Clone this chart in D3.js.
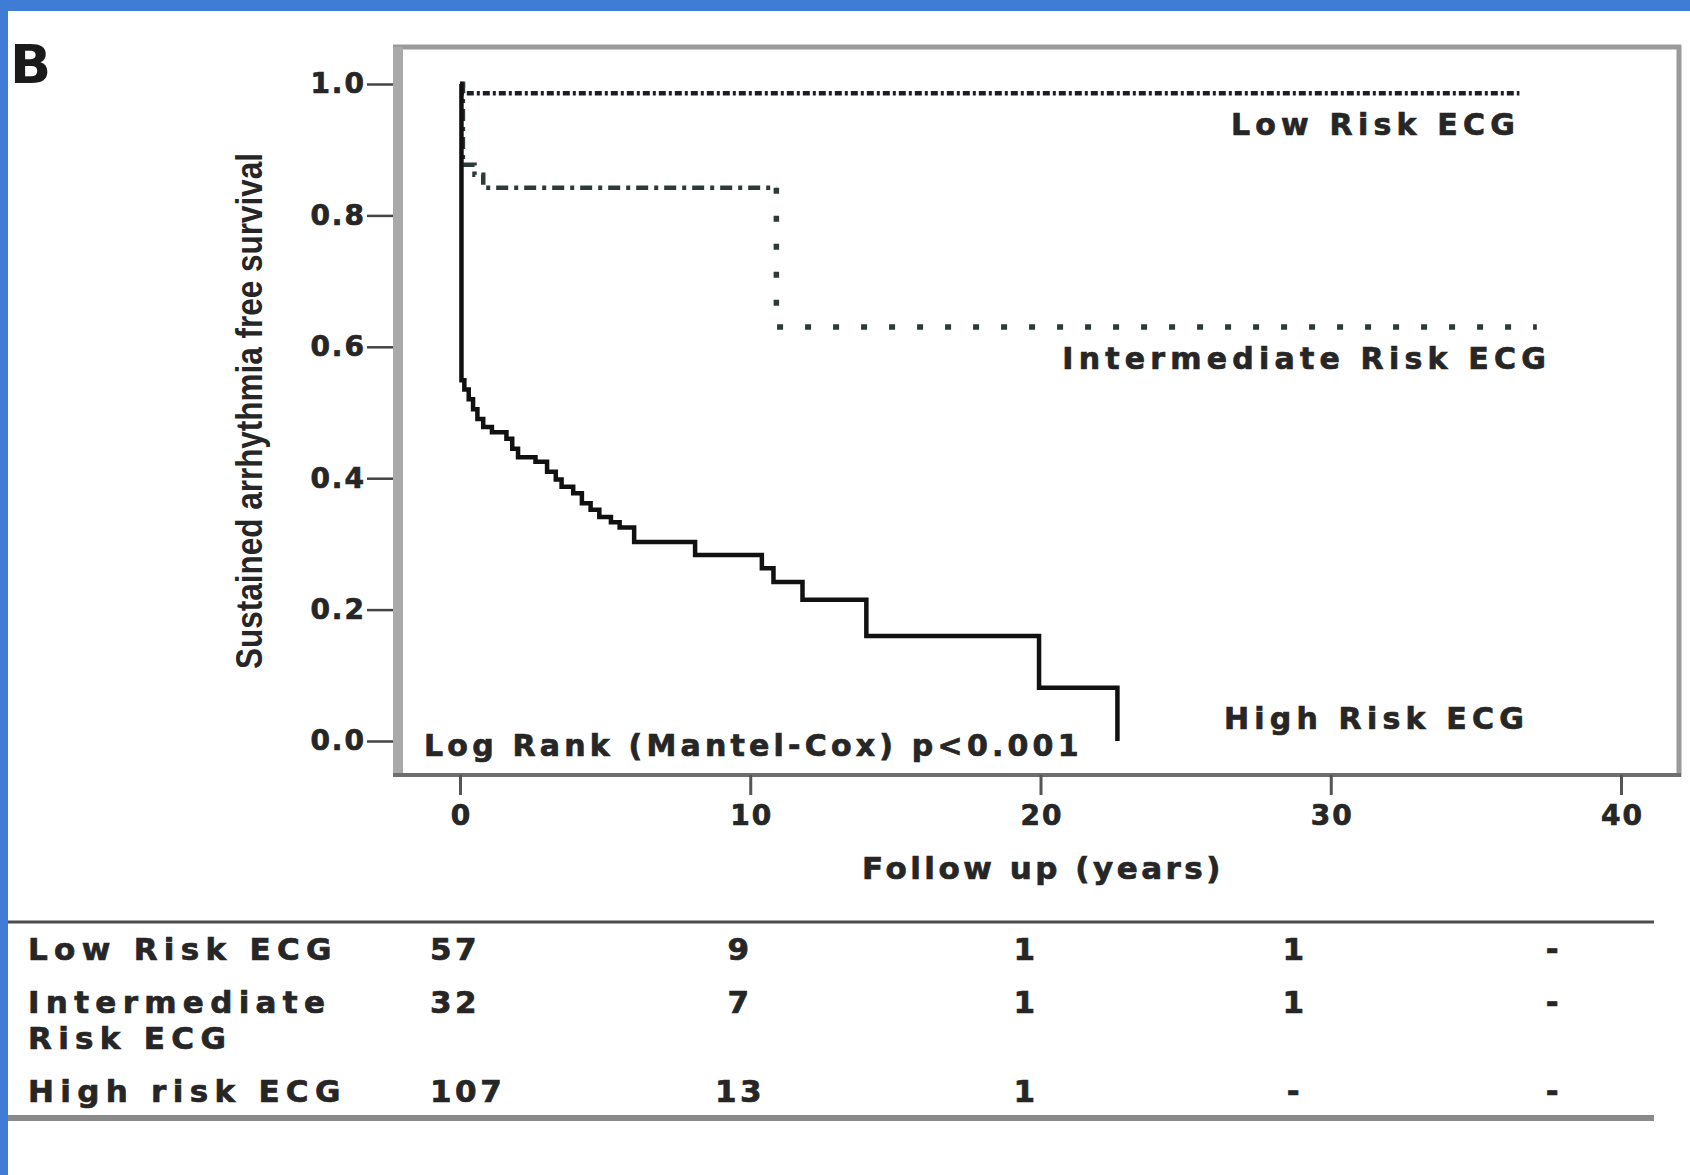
<!DOCTYPE html>
<html>
<head>
<meta charset="utf-8">
<script src="https://cdn.jsdelivr.net/npm/d3@7"></script>
<style>
  body { margin: 0; background: #fff; }
  svg { display: block; }
</style>
</head>
<body>
<div id="chart"></div>
<script>
// Kaplan-Meier data (years, survival)
const lowT = [0, 0.1, 36.5];
const lowS = [1, 0.986, 0.986];

const interT = [0, 0.1, 0.5, 0.8, 10.9, 37.1];
const interS = [1, 0.877, 0.862, 0.842, 0.63, 0.63];

const highT = [0, 0.05, 0.15, 0.3, 0.45, 0.6, 0.8, 1.1, 1.6, 1.8, 2.0, 2.6, 3.0, 3.3, 3.5, 3.9,
  4.2, 4.5, 4.8, 5.2, 5.5, 6.0, 8.1, 10.4, 10.8, 11.8, 14.0, 19.95, 22.65];
const highS = [1, 0.549, 0.535, 0.52, 0.505, 0.49, 0.478, 0.47, 0.46, 0.445, 0.432, 0.425, 0.41, 0.398, 0.387, 0.377,
  0.362, 0.352, 0.341, 0.333, 0.325, 0.303, 0.283, 0.263, 0.242, 0.215, 0.16, 0.081, 0];

const xTicks = [0, 10, 20, 30, 40];
const yTicks = [0, 0.2, 0.4, 0.6, 0.8, 1.0];

// numbers at risk table
const tableGroups = ["Low Risk ECG", "Intermediate|Risk ECG", "High risk ECG"];
const riskLow = ["57", "9", "1", "1", "-"];
const riskInter = ["32", "7", "1", "1", "-"];
const riskHigh = ["107", "13", "1", "-", "-"];

const width = 1690, height = 1175;
const font = "'DejaVu Sans', Verdana, sans-serif";
const ink = "#262626";

const svg = d3.select("#chart").append("svg")
  .attr("width", width)
  .attr("height", height);

svg.append("rect").attr("width", width).attr("height", height).attr("fill", "#fff");

// blue frame of the slide
svg.append("rect").attr("x", 0).attr("y", 0).attr("width", width).attr("height", 11).attr("fill", "#3f7cd5");
svg.append("rect").attr("x", 0).attr("y", 0).attr("width", 8).attr("height", height).attr("fill", "#3f7cd5");

// panel letter
svg.append("text")
  .attr("x", 10).attr("y", 83)
  .style("font-family", font).style("font-weight", "bold").style("font-size", "54px")
  .attr("fill", "#1a1a1a")
  .text("B");

// scales
const x = d3.scaleLinear().domain([0, 40]).range([460, 1621]);
const y = d3.scaleLinear().domain([0, 1]).range([741, 84]);

const box = { left: 398, right: 1679, top: 47, bottom: 775 };

// plot frame
svg.append("line").attr("x1", box.left - 5).attr("x2", box.right + 2).attr("y1", box.top).attr("y2", box.top)
  .attr("stroke", "#9a9a9a").attr("stroke-width", 5);
svg.append("line").attr("x1", box.right).attr("x2", box.right).attr("y1", box.top - 2).attr("y2", box.bottom + 2)
  .attr("stroke", "#9a9a9a").attr("stroke-width", 5);
svg.append("line").attr("x1", box.left).attr("x2", box.left).attr("y1", box.top).attr("y2", box.bottom)
  .attr("stroke", "#a9a9a9").attr("stroke-width", 10);
svg.append("line").attr("x1", box.left - 5).attr("x2", box.right + 2).attr("y1", box.bottom).attr("y2", box.bottom)
  .attr("stroke", "#6e6e6e").attr("stroke-width", 4);

// heavier, slightly blurred looking text
const heavy = sel => sel.attr("stroke", ink).attr("stroke-width", 0.7);

// y axis
const yAxis = svg.append("g")
  .attr("transform", `translate(${box.left - 5},0)`)
  .call(d3.axisLeft(y).tickValues(yTicks).tickFormat(d3.format(".1f")).tickSize(26).tickPadding(1));
yAxis.select(".domain").remove();
yAxis.selectAll(".tick line").attr("stroke", "#444").attr("stroke-width", 2.5);
yAxis.selectAll(".tick text")
  .style("font-family", font).style("font-weight", "bold").style("font-size", "28px")
  .style("letter-spacing", "2px").attr("fill", ink).call(heavy);

// x axis
const xAxis = svg.append("g")
  .attr("transform", `translate(0,${box.bottom})`)
  .call(d3.axisBottom(x).tickValues(xTicks).tickFormat(d3.format("d")).tickSize(20).tickPadding(10));
xAxis.select(".domain").remove();
xAxis.selectAll(".tick line").attr("stroke", "#555").attr("stroke-width", 3);
xAxis.selectAll(".tick text")
  .style("font-family", font).style("font-weight", "bold").style("font-size", "28px")
  .style("letter-spacing", "2px").attr("dx", "1px").attr("fill", ink).call(heavy);

// axis titles
svg.append("text")
  .attr("transform", "translate(262,411) rotate(-90)")
  .attr("text-anchor", "middle")
  .attr("textLength", 516).attr("lengthAdjust", "spacingAndGlyphs")
  .style("font-family", "'Liberation Sans Narrow', 'Liberation Sans', Arial, sans-serif")
  .style("font-weight", "bold").style("font-size", "37px")
  .attr("fill", ink)
  .text("Sustained arrhythmia free survival");

svg.append("text")
  .attr("x", 1043).attr("y", 879)
  .attr("text-anchor", "middle")
  .style("font-family", font).style("font-weight", "bold").style("font-size", "31px")
  .style("letter-spacing", "3.5px").attr("fill", ink).call(heavy)
  .text("Follow up (years)");

// curves
const line = d3.line().x(d => x(d.t)).y(d => y(d.s)).curve(d3.curveStepAfter);
const zip = (ts, ss) => ts.map((t, i) => ({ t: t, s: ss[i] }));

const lowPts = zip(lowT, lowS);
const interPts = zip(interT, interS);
const highPts = zip(highT, highS);

// intermediate curve: dash-dot before the big drop, dotted after it
const dropIdx = 4;
const dropStart = { t: interPts[dropIdx].t, s: interPts[dropIdx - 1].s };
const interA = interPts.slice(0, dropIdx).concat([dropStart]);
const interB = [dropStart].concat(interPts.slice(dropIdx));

svg.append("path").datum(lowPts)
  .attr("d", line).attr("fill", "none")
  .attr("stroke", "#1e1e2a").attr("stroke-width", 4.5)
  .attr("stroke-dasharray", "7,3,3,3");

svg.append("path").datum(interA)
  .attr("d", line).attr("fill", "none")
  .attr("stroke", "#2c3a3a").attr("stroke-width", 4.5)
  .attr("stroke-dasharray", "12,6,4,6");

svg.append("path").datum(interB)
  .attr("d", line).attr("fill", "none")
  .attr("stroke", "#2c3a3a").attr("stroke-width", 5.5)
  .attr("stroke-dasharray", "6,22");

svg.append("path").datum(highPts)
  .attr("d", line).attr("fill", "none")
  .attr("stroke", "#111").attr("stroke-width", 4.5)
  .attr("stroke-linejoin", "miter");

// curve labels
const labelStyle = sel => sel
  .style("font-family", font).style("font-weight", "bold").style("font-size", "30px")
  .style("letter-spacing", "5.2px").attr("fill", ink).call(heavy);

svg.append("text").attr("x", 1520).attr("y", 135).attr("text-anchor", "end").call(labelStyle).text("Low Risk ECG");
svg.append("text").attr("x", 1551).attr("y", 369).attr("text-anchor", "end").call(labelStyle).text("Intermediate Risk ECG");
svg.append("text").attr("x", 1529).attr("y", 729).attr("text-anchor", "end").call(labelStyle).text("High Risk ECG");
svg.append("text").attr("x", 424).attr("y", 756).call(labelStyle).style("letter-spacing", "4.2px")
  .text("Log Rank (Mantel-Cox) p<0.001");

// numbers at risk table
svg.append("line").attr("x1", 8).attr("x2", 1654).attr("y1", 922).attr("y2", 922)
  .attr("stroke", "#4d4d4d").attr("stroke-width", 3);
svg.append("line").attr("x1", 8).attr("x2", 1654).attr("y1", 1118).attr("y2", 1118)
  .attr("stroke", "#8a8a8a").attr("stroke-width", 6);

const rowY = d3.scaleOrdinal().domain(tableGroups).range([960, 1013, 1102]);
const colX = d3.scaleOrdinal().domain(xTicks).range([430, 738, 1024, 1293, 1552]);
const riskRows = [riskLow, riskInter, riskHigh];
const lineGap = 36;

const tableText = sel => sel
  .style("font-family", font).style("font-weight", "bold").style("font-size", "31px")
  .attr("fill", ink).call(heavy);

tableGroups.forEach((g, i) => {
  // group name, one text element per line
  g.split("|").forEach((part, j) => {
    svg.append("text").attr("x", 28).attr("y", rowY(g) + j * lineGap)
      .call(tableText).style("letter-spacing", "6.3px")
      .text(part);
  });

  svg.selectAll(null)
    .data(riskRows[i].map((v, k) => ({ v: v, col: xTicks[k] })))
    .enter()
    .append("text")
    .attr("x", d => colX(d.col) + (d.col === 0 ? 0 : 2))
    .attr("y", rowY(g))
    .attr("text-anchor", d => d.col === 0 ? "start" : "middle")
    .call(tableText)
    .style("letter-spacing", "3.5px")
    .text(d => d.v);
});
</script>
</body>
</html>
